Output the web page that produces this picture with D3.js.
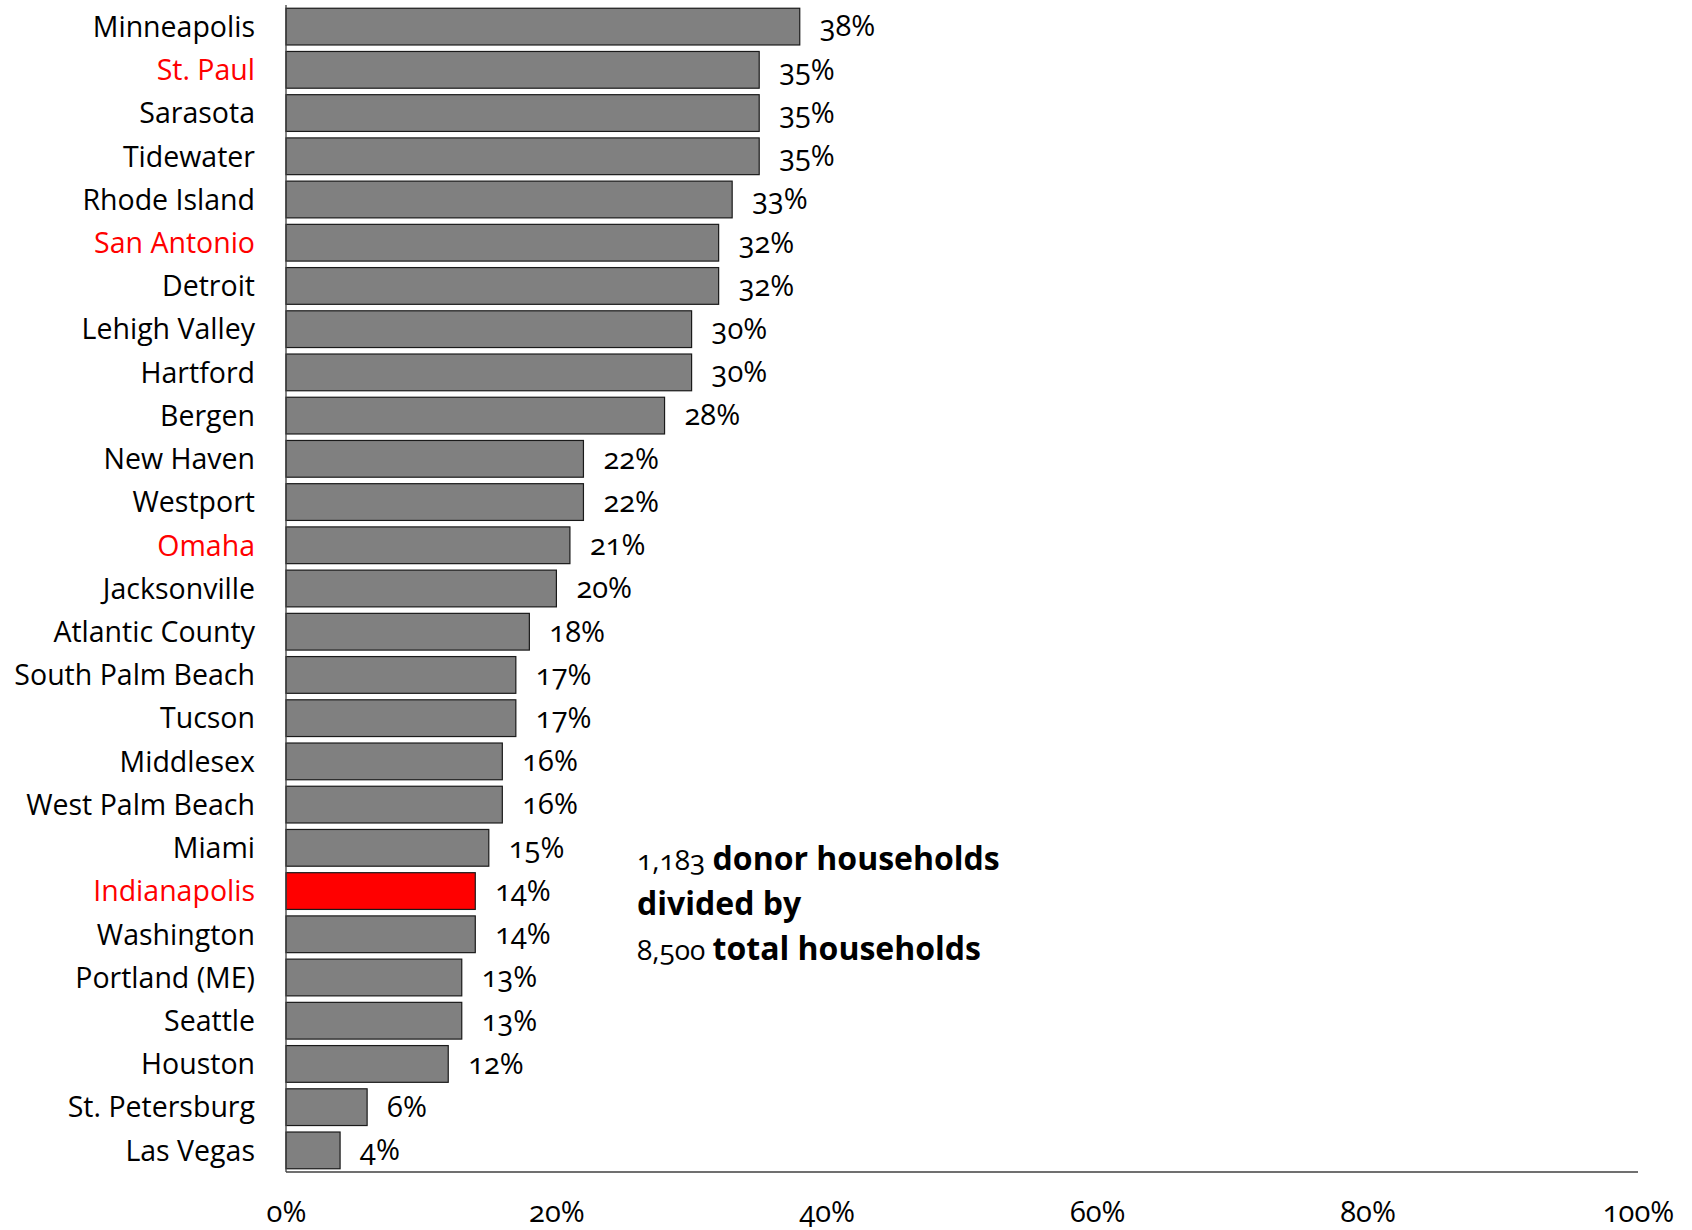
<!DOCTYPE html>
<html>
<head>
<meta charset="UTF-8">
<title>Donor households share</title>
<style>
  body { margin: 0; background: #fff; }
  svg text { font-family: "Open Sans", "Noto Sans", sans-serif; font-feature-settings: "onum" 1; }
  .bar { stroke: #1a1a1a; stroke-width: 1.2px; }
  .axis-line { stroke: #404040; stroke-width: 1.3px; }
</style>
</head>
<body>
<script src="https://cdn.jsdelivr.net/npm/d3@7/dist/d3.min.js"></script>
<script>
const cities = ["Minneapolis", "St. Paul", "Sarasota", "Tidewater", "Rhode Island", "San Antonio",
  "Detroit", "Lehigh Valley", "Hartford", "Bergen", "New Haven", "Westport", "Omaha", "Jacksonville",
  "Atlantic County", "South Palm Beach", "Tucson", "Middlesex", "West Palm Beach", "Miami",
  "Indianapolis", "Washington", "Portland (ME)", "Seattle", "Houston", "St. Petersburg", "Las Vegas"];
const shares = [0.38, 0.35, 0.35, 0.35, 0.33, 0.32, 0.32, 0.30, 0.30, 0.28, 0.22, 0.22, 0.21, 0.20,
  0.18, 0.17, 0.17, 0.16, 0.16, 0.15, 0.14, 0.14, 0.13, 0.13, 0.12, 0.06, 0.04];
const redLabels = ["St. Paul", "San Antonio", "Omaha", "Indianapolis"];
const redBar = "Indianapolis";
const xTicks = [0, 0.2, 0.4, 0.6, 0.8, 1.0];

const data = cities.map((c, i) => ({city: c, value: shares[i]}));

const width = 1692, height = 1230;
const mLeft = 286, mRight = 1638, mTop = 5, mBottom = 1172;

const svg = d3.select("body").append("svg").attr("width", width).attr("height", height);

const x = d3.scaleLinear().domain([0, 1]).range([mLeft, mRight]);
const y = d3.scaleBand().domain(cities).range([mTop, mBottom]).paddingInner(0.15).paddingOuter(0.075);

svg.append("g").selectAll("rect").data(data).enter().append("rect")
  .attr("class", "bar")
  .attr("x", x(0))
  .attr("y", d => y(d.city))
  .attr("width", d => x(d.value) - x(0))
  .attr("height", y.bandwidth())
  .attr("fill", d => d.city === redBar ? "#ff0000" : "#808080");

// category labels
svg.append("g").selectAll("text").data(data).enter().append("text")
  .attr("x", mLeft - 31)
  .attr("y", d => y(d.city) + y.bandwidth() / 2)
  .attr("dy", "0.36em")
  .attr("text-anchor", "end")
  .attr("font-size", 28.5)
  .attr("fill", d => redLabels.includes(d.city) ? "#ff0000" : "#000")
  .text(d => d.city);

// value labels
svg.append("g").selectAll("text").data(data).enter().append("text")
  .attr("x", d => x(d.value) + 20)
  .attr("y", d => y(d.city) + y.bandwidth() / 2)
  .attr("dy", "0.34em")
  .attr("font-size", 29)
  .attr("fill", "#000")
  .text(d => d3.format(".0%")(d.value));

// axes lines
svg.append("line").attr("class", "axis-line")
  .attr("x1", x(0)).attr("x2", x(0)).attr("y1", mTop).attr("y2", mBottom);
svg.append("line").attr("class", "axis-line")
  .attr("x1", x(0)).attr("x2", x(1)).attr("y1", mBottom).attr("y2", mBottom);

const xAxis = d3.axisBottom(x).tickValues(xTicks).tickFormat(d3.format(".0%")).tickSize(0).tickPadding(29);
const gx = svg.append("g").attr("transform", `translate(0,${mBottom})`).call(xAxis);
gx.select(".domain").remove();
gx.selectAll("text").attr("font-size", 29).attr("fill", "#000")
  .style("font-family", "\"Open Sans\", sans-serif");

// annotation
const note = svg.append("text").attr("x", 637).attr("y", 870).attr("font-size", 32).attr("fill", "#000");
const lines = [
  [{t: "1,183 ", b: false}, {t: "donor households", b: true}],
  [{t: "divided by", b: true}],
  [{t: "8,500 ", b: false}, {t: "total households", b: true}]
];
lines.forEach((parts, i) => {
  parts.forEach((p, j) => {
    const ts = note.append("tspan").text(p.t).attr("font-weight", p.b ? 700 : 400)
      .attr("font-size", p.b ? 32 : 28);
    if (j === 0) ts.attr("x", 637).attr("dy", i === 0 ? 0 : 45);
  });
});
</script>
</body>
</html>
